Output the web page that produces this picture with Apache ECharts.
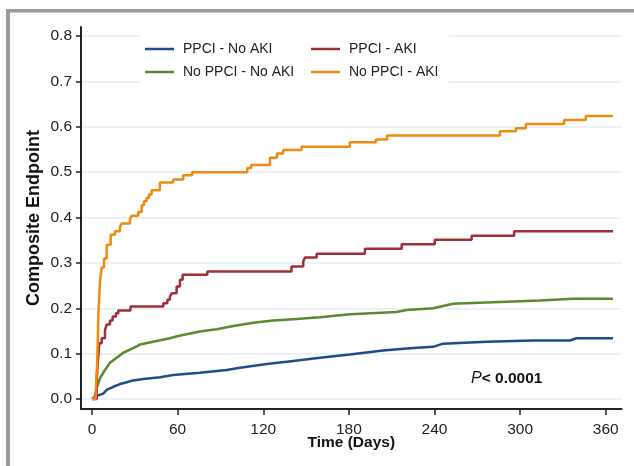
<!DOCTYPE html>
<html>
<head>
<meta charset="utf-8">
<script src="https://cdn.jsdelivr.net/npm/echarts@6/dist/echarts.min.js"></script>
<style>
html,body{margin:0;padding:0;background:#fff;}
#chart{width:634px;height:466px;}
</style>
</head>
<body>
<div id="chart"></div>
<script>
// ---- Data ----
const xTicks = [0, 60, 120, 180, 240, 300, 360];
const yTicks = [0, 0.1, 0.2, 0.3, 0.4, 0.5, 0.6, 0.7, 0.8];

const seriesNames = ['PPCI - No AKI', 'PPCI - AKI', 'No PPCI - No AKI', 'No PPCI - AKI'];

const blueDays = [0, 1.6, 3.3, 7.9, 10.3, 14.9, 19.6, 24.3, 28.9, 35.9, 47.6, 56.9, 75.6, 94.3, 103.7, 122.4, 141, 159.7, 180.7, 204, 222.7, 239, 246, 276.4, 309, 334.8, 339.5, 365];
const blueVals = [0, 0.002, 0.007, 0.012, 0.02, 0.027, 0.033, 0.037, 0.041, 0.044, 0.048, 0.053, 0.058, 0.064, 0.069, 0.077, 0.084, 0.091, 0.098, 0.107, 0.112, 0.115, 0.122, 0.126, 0.129, 0.129, 0.134, 0.134];

const redDays = [0, 3.3, 4, 4.6, 5.1, 6.8, 9.1, 10.3, 12.6, 14.5, 16.8, 18.4, 27, 50, 52.8, 54.6, 55.8, 59.3, 61.6, 63.5, 80.8, 139.8, 148, 149.2, 157.4, 191.2, 217, 240.2, 266, 295.8, 365];
const redVals = [0, 0.04, 0.08, 0.10, 0.123, 0.134, 0.152, 0.164, 0.173, 0.182, 0.189, 0.195, 0.204, 0.211, 0.219, 0.226, 0.233, 0.248, 0.263, 0.274, 0.281, 0.292, 0.303, 0.312, 0.32, 0.331, 0.341, 0.351, 0.36, 0.37, 0.37];

const greenDays = [0, 1.6, 3.3, 5.6, 9.1, 12.6, 17.3, 21.9, 28.9, 33.6, 45.3, 54.6, 60.4, 75.6, 87.3, 99, 113, 127, 141, 159.7, 180.7, 213.4, 220.4, 239, 253, 285.8, 313.8, 337, 365];
const greenVals = [0, 0.002, 0.024, 0.046, 0.064, 0.08, 0.091, 0.102, 0.112, 0.12, 0.128, 0.134, 0.139, 0.149, 0.154, 0.161, 0.168, 0.173, 0.176, 0.18, 0.187, 0.192, 0.196, 0.2, 0.21, 0.214, 0.217, 0.221, 0.221];

const orangeDays = [0, 2.5, 3, 3.5, 4, 4.5, 5, 5.6, 6.8, 8.4, 10.3, 13.1, 16.1, 19.6, 20.8, 26.6, 27.8, 32.4, 34.8, 36.4, 38.3, 39.9, 41.8, 47.6, 56.9, 63.9, 70.2, 108.8, 111.5, 124.7, 129.6, 134, 146.8, 180.7, 198.9, 206.8, 285.8, 297, 304, 330.8, 346, 365];
const orangeVals = [0, 0, 0.04, 0.07, 0.12, 0.19, 0.22, 0.26, 0.29, 0.31, 0.34, 0.362, 0.37, 0.379, 0.387, 0.396, 0.404, 0.412, 0.427, 0.436, 0.443, 0.451, 0.46, 0.477, 0.484, 0.493, 0.5, 0.509, 0.516, 0.532, 0.541, 0.549, 0.556, 0.566, 0.572, 0.581, 0.59, 0.597, 0.606, 0.615, 0.624, 0.624];

const pText = '< 0.0001';

// ---- Build ----
function pairs(d, v) { return d.map((x, i) => [x, v[i]]); }
const colors = { blue: '#1f4d85', red: '#9e3039', green: '#5a8a30', orange: '#f08a10' };
const axisColor = '#222';

function lineSeries(name, data, color, step) {
  return {
    name: name, type: 'line', data: data, step: step || false,
    symbol: 'none', showSymbol: false, smooth: false,
    lineStyle: { color: color, width: 2.5 }, itemStyle: { color: color },
    emphasis: { disabled: true }, animation: false
  };
}

const chart = echarts.init(document.getElementById('chart'), null, { renderer: 'canvas' });
const legendCommon = {
  orient: 'vertical', icon: 'rect', itemWidth: 29, itemHeight: 2.5, itemGap: 9,
  backgroundColor: '#ffffff',
  textStyle: { fontFamily: 'Liberation Sans, Arial, sans-serif', fontSize: 14, color: '#222', padding: [0, 0, 0, 4] },
  selectedMode: false
};
chart.setOption({
  animation: false,
  backgroundColor: '#ffffff',
  grid: { left: 81, right: 12.5, top: 27, bottom: 57, containLabel: false },
  legend: [
    Object.assign({}, legendCommon, { data: [seriesNames[0], seriesNames[2]], left: 140, top: 34, padding: [8, 25, 8, 5] }),
    Object.assign({}, legendCommon, { data: [seriesNames[1], seriesNames[3]], left: 306, top: 34, padding: [8, 10, 8, 5] })
  ],
  xAxis: {
    type: 'value', min: -7.7, max: 371,
    name: 'Time (Days)', nameLocation: 'middle', nameGap: 26, nameMoveOverlap: false,
    nameTextStyle: { fontFamily: 'Liberation Sans, Arial, sans-serif', fontSize: 15.5, fontWeight: 'bold', color: '#111' },
    axisLine: { onZero: false, lineStyle: { color: axisColor, width: 2 } },
    axisTick: { show: true, customValues: xTicks, length: 6, lineStyle: { color: axisColor, width: 1.5 } },
    axisLabel: { customValues: xTicks, fontFamily: 'Liberation Sans, Arial, sans-serif', fontSize: 15.5, color: '#222', margin: 13 },
    splitLine: { show: false }
  },
  yAxis: {
    type: 'value', min: -0.022, max: 0.82,
    name: 'Composite Endpoint', nameLocation: 'middle', nameGap: 38, nameMoveOverlap: false,
    nameTextStyle: { fontFamily: 'Liberation Sans, Arial, sans-serif', fontSize: 18, fontWeight: 'bold', color: '#111' },
    axisLine: { onZero: false, lineStyle: { color: axisColor, width: 2 } },
    axisTick: { show: true, customValues: yTicks, length: 5, lineStyle: { color: axisColor, width: 1.5 } },
    axisLabel: { customValues: yTicks, formatter: v => v.toFixed(1), fontFamily: 'Liberation Sans, Arial, sans-serif', fontSize: 15.5, color: '#222', margin: 9 },
    splitLine: { show: true, lineStyle: { color: '#e4edf1', width: 1.5 } }
  },
  series: [
    lineSeries(seriesNames[2], pairs(greenDays, greenVals), colors.green),
    lineSeries(seriesNames[0], pairs(blueDays, blueVals), colors.blue),
    lineSeries(seriesNames[1], pairs(redDays, redVals), colors.red, 'end'),
    lineSeries(seriesNames[3], pairs(orangeDays, orangeVals), colors.orange, 'end')
  ],
  graphic: [
    { type: 'rect', left: 6, top: 9, shape: { width: 628, height: 3.5 }, style: { fill: '#9b9b9b' }, silent: true },
    { type: 'rect', left: 6, top: 9, shape: { width: 4, height: 457 }, style: { fill: '#9b9b9b' }, silent: true },
    { type: 'text', left: 471, top: 371, silent: true,
      style: { text: '{i|P}{b|' + pText + '}', rich: {
        i: { fontFamily: 'Liberation Sans, Arial, sans-serif', fontStyle: 'italic', fontSize: 16, fill: '#111' },
        b: { fontFamily: 'Liberation Sans, Arial, sans-serif', fontWeight: 'bold', fontSize: 15.5, fill: '#111' }
      } } }
  ]
});
</script>
</body>
</html>
